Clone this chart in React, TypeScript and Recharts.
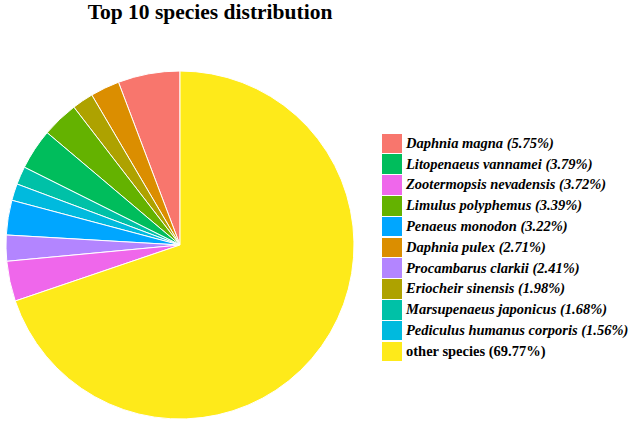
import { PieChart, Pie, Cell, Legend } from 'recharts';

// Slices, in drawing order (alphabetical, counter-clockwise from 12 o'clock)
const SPECIES = [
  'Daphnia magna',
  'Daphnia pulex',
  'Eriocheir sinensis',
  'Limulus polyphemus',
  'Litopenaeus vannamei',
  'Marsupenaeus japonicus',
  'Pediculus humanus corporis',
  'Penaeus monodon',
  'Procambarus clarkii',
  'Zootermopsis nevadensis',
  'other species',
];
const SHARES = [5.75, 2.71, 1.98, 3.39, 3.79, 1.68, 1.56, 3.22, 2.41, 3.72, 69.77];
const COLORS = [
  '#F8766D',
  '#DB8E00',
  '#AEA200',
  '#64B200',
  '#00BD5C',
  '#00C1A7',
  '#00BADE',
  '#00A6FF',
  '#B385FF',
  '#EF67EB',
  '#FEEA1A',
];

// Legend order (by share, "other" last)
const LEGEND_ORDER = [
  'Daphnia magna',
  'Litopenaeus vannamei',
  'Zootermopsis nevadensis',
  'Limulus polyphemus',
  'Penaeus monodon',
  'Daphnia pulex',
  'Procambarus clarkii',
  'Eriocheir sinensis',
  'Marsupenaeus japonicus',
  'Pediculus humanus corporis',
  'other species',
];

const data = SPECIES.map((name, i) => ({ name, value: SHARES[i], color: COLORS[i] }));

const FONT = '"Liberation Serif", "Times New Roman", Times, serif';

function SpeciesLegend() {
  return (
    <div style={{ fontFamily: FONT, fontSize: 14.5, fontWeight: 'bold', color: '#000' }}>
      {LEGEND_ORDER.map((name) => {
        const d = data.find((x) => x.name === name)!;
        const other = name === 'other species';
        return (
          <div key={name} style={{ display: 'flex', alignItems: 'center', height: 20.8 }}>
            <span
              style={{
                display: 'inline-block',
                width: 20,
                height: 19.5,
                background: d.color,
                marginRight: 4,
                flexShrink: 0,
              }}
            />
            <span style={{ fontStyle: other ? 'normal' : 'italic', whiteSpace: 'nowrap' }}>
              {name} ({d.value.toFixed(2)}%)
            </span>
          </div>
        );
      })}
    </div>
  );
}

export default function App() {
  return (
    <div style={{ position: 'absolute', left: 0, top: 0, width: 630, height: 424, background: '#fff' }}>
      <div
        style={{
          position: 'absolute',
          left: 0,
          top: 0,
          width: 420,
          textAlign: 'center',
          fontFamily: FONT,
          fontWeight: 'bold',
          fontSize: 21.5,
          lineHeight: '24px',
          color: '#000',
        }}
      >
        Top 10 species distribution
      </div>
      <PieChart width={630} height={424} margin={{ top: 0, right: 0, bottom: 0, left: 0 }}>
        <Pie
          data={data}
          dataKey="value"
          nameKey="name"
          cx={180}
          cy={245}
          outerRadius={174}
          startAngle={90}
          endAngle={450}
          stroke="#fff"
          strokeWidth={1}
          isAnimationActive={false}
        >
          {data.map((d) => (
            <Cell key={d.name} fill={d.color} />
          ))}
        </Pie>
        <Legend
          layout="vertical"
          content={() => <SpeciesLegend />}
          wrapperStyle={{ position: 'absolute', left: 382, top: 133, width: 248 }}
        />
      </PieChart>
    </div>
  );
}
